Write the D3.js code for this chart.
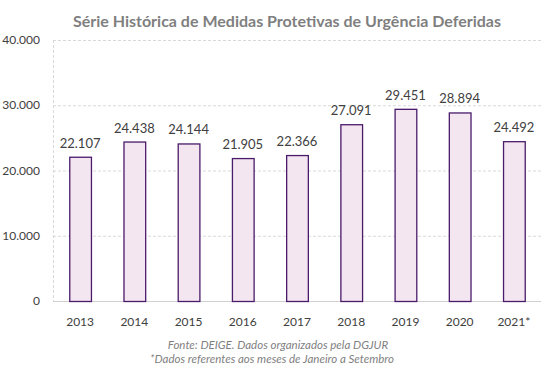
<!DOCTYPE html>
<meta charset="UTF-8">
<style>
body { margin: 0; background: #fff; }
text { font-family: Lato, "Open Sans", sans-serif; }
.grid line { stroke: #d9d9d9; stroke-dasharray: 3,2; }
</style>
<body>
<script src="https://d3js.org/d3.v7.min.js"></script>
<script>
var years = ["2013", "2014", "2015", "2016", "2017", "2018", "2019", "2020", "2021*"];
var values = [22107, 24438, 24144, 21905, 22366, 27091, 29451, 28894, 24492];
var yTicks = [0, 10000, 20000, 30000, 40000];

var width = 548, height = 375;
var margin = {top: 40, right: 7, bottom: 74, left: 53};

var svg = d3.select("body").append("svg")
    .attr("width", width)
    .attr("height", height);

var x = d3.scaleBand()
    .domain(years)
    .range([margin.left, width - margin.right])
    .paddingInner(0.6)
    .paddingOuter(0.3);

var y = d3.scaleLinear()
    .domain([0, 40000])
    .range([height - margin.bottom, margin.top]);

var fmt = function(v) { return d3.format(",")(v).replace(/,/g, "."); };

// title
svg.append("text")
    .attr("x", 287)
    .attr("y", 27)
    .attr("text-anchor", "middle")
    .attr("fill", "#7f7f7f")
    .style("font-size", "16px")
    .style("font-weight", "bold")
    .text("Série Histórica de Medidas Protetivas de Urgência Deferidas");

// gridlines
var grid = svg.append("g").attr("class", "grid");
grid.selectAll("line.h")
    .data(yTicks.slice(1))
  .enter().append("line")
    .attr("x1", margin.left)
    .attr("x2", width - margin.right)
    .attr("y1", function(d) { return y(d) + 0.5; })
    .attr("y2", function(d) { return y(d) + 0.5; });
grid.append("line")
    .attr("x1", margin.left + 0.5)
    .attr("x2", margin.left + 0.5)
    .attr("y1", y(40000))
    .attr("y2", y(0));

// baseline
svg.append("line")
    .attr("x1", margin.left)
    .attr("x2", width - margin.right)
    .attr("y1", y(0) + 0.5)
    .attr("y2", y(0) + 0.5)
    .attr("stroke", "#d0d0d0");

// y tick labels
svg.selectAll(".ytick")
    .data(yTicks)
  .enter().append("text")
    .attr("x", 40)
    .attr("y", function(d) { return y(d) + 4; })
    .attr("text-anchor", "end")
    .attr("fill", "#404040")
    .style("font-size", "12px")
    .text(fmt);

// bars
svg.selectAll(".bar")
    .data(values)
  .enter().append("rect")
    .attr("x", function(d, i) { return x(years[i]) + 0.5; })
    .attr("y", function(d) { return y(d) + 0.5; })
    .attr("width", x.bandwidth())
    .attr("height", function(d) { return y(0) - y(d); })
    .attr("fill", "#f3e6f0")
    .attr("stroke", "#4a1a6b")
    .attr("stroke-width", 1.3);

// value labels
svg.selectAll(".val")
    .data(values)
  .enter().append("text")
    .attr("x", function(d, i) { return x(years[i]) + x.bandwidth() / 2; })
    .attr("y", function(d) { return y(d) - 9; })
    .attr("text-anchor", "middle")
    .attr("fill", "#404040")
    .style("font-size", "13px")
    .text(fmt);

// x labels
svg.selectAll(".xl")
    .data(years)
  .enter().append("text")
    .attr("x", function(d) { return x(d) + x.bandwidth() / 2; })
    .attr("y", y(0) + 25)
    .attr("text-anchor", "middle")
    .attr("fill", "#404040")
    .style("font-size", "12px")
    .text(function(d) { return d; });

// footnotes
var notes = ["Fonte: DEIGE. Dados organizados pela DGJUR", "*Dados referentes aos meses de Janeiro a Setembro"];
svg.selectAll(".note")
    .data(notes)
  .enter().append("text")
    .attr("x", function(d, i) { return i === 0 ? 278 : 272; })
    .attr("y", function(d, i) { return 349 + i * 14; })
    .attr("text-anchor", "middle")
    .attr("fill", "#7f7f7f")
    .style("font-size", "11.5px")
    .style("font-style", "italic")
    .text(function(d) { return d; });
</script>
</body>
